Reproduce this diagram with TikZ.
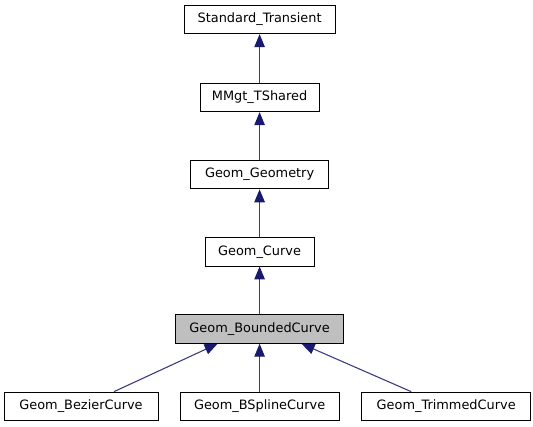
\documentclass[tikz,border=0pt]{standalone}
\usepackage{fontspec}
\setmainfont{DejaVu Sans}
\usetikzlibrary{arrows.meta}
\definecolor{edgeblue}{HTML}{191970}
\definecolor{edgeline}{HTML}{3C3C86}
\begin{document}
\begin{tikzpicture}[x=1pt,y=-1pt,
  cls/.style={draw=black,line width=0.9pt,fill=white,inner sep=0pt,minimum height=28.4pt,
    font=\fontsize{12.9}{15}\selectfont,text=black},
  inh/.style={draw=edgeline,line width=1.1pt,-{Triangle[length=13pt,width=10.5pt,color=edgeblue,fill=edgeblue]}}]
\useasboundingbox (0,0) rectangle (533,427);
\node[cls,minimum width=150.7pt] (st) at (259.6,19.5) {Standard\_Transient};
\node[cls,minimum width=119.3pt] (mm) at (259.6,97.5) {MMgt\_TShared};
\node[cls,minimum width=138.3pt] (gg) at (259.6,174.7) {Geom\_Geometry};
\node[cls,minimum width=109.3pt] (gc) at (259.6,251.8) {Geom\_Curve};
\node[cls,minimum width=168.3pt,fill={rgb,255:red,191;green,191;blue,191}] (bc) at (259.6,329.1) {Geom\_BoundedCurve};
\node[cls,minimum width=154pt] (bz) at (81,406.3) {Geom\_BezierCurve};
\node[cls,minimum width=159pt] (bs) at (259.6,406.3) {Geom\_BSplineCurve};
\node[cls,minimum width=169pt] (tc) at (446.2,406.3) {Geom\_TrimmedCurve};
\draw[inh] (mm) -- (st);
\draw[inh] (gg) -- (mm);
\draw[inh] (gc) -- (gg);
\draw[inh] (bc) -- (gc);
\draw[inh] (bs) -- (bc);
\draw[inh] ([xshift=33pt]bz.north) -- ([xshift=-42pt]bc.south);
\draw[inh] ([xshift=-35pt]tc.north) -- ([xshift=42pt]bc.south);
\end{tikzpicture}
\end{document}
